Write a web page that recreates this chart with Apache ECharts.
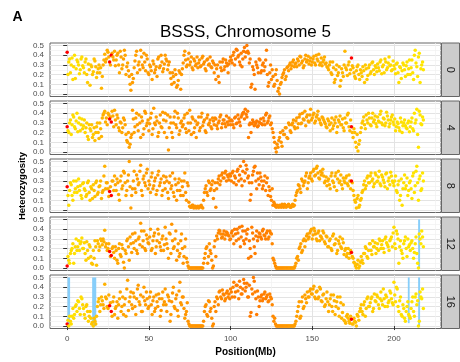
<!DOCTYPE html>
<html><head><meta charset="utf-8">
<script src="https://cdn.jsdelivr.net/npm/echarts@6/dist/echarts.min.js"></script>
<style>html,body{margin:0;padding:0;background:#fff}#c{width:460px;height:362px}</style>
</head><body><div id="c"></div>
<script>
// ---- data ----
const generations = ['0', '4', '8', '12', '16'];
// markers, set A (Mb)
const positions = [
0,1,2,3,4,5,6,7,8,9,10,11,12,13,14,15,16,17,18,19,20,21,22,23,24,25,26,27,28,29,
30,31,32,33,34,35,36,37,38,39,40,41,42,43,44,45,46,47,48,49,50,51,52,53,54,55,56,57,58,59,
60,61,62,63,64,65,66,67,68,69,70,71,72,73,74,75,76,77,78,79,80,81,82,83,84,85,86,87,88,89,
90,91,92,93,94,95,96,97,98,99,100,101,102,103,104,105,106,107,108,109,110,111,112,113,114,115,116,117,118,119,
120,121,122,123,124,125,126,127,128,129,130,131,132,133,134,135,136,137,138,139,140,141,142,143,144,145,146,147,148,149,
150,151,152,153,154,155,156,157,158,159,160,161,162,163,164,165,166,167,168,169,170,171,172,173,174,175,176,177,178,179,
180,181,182,183,184,185,186,187,188,189,190,191,192,193,194,195,196,197,198,199,200,201,202,203,204,205,206,207,208,209,
210,211,212,213,214,215,216,217,218];
// markers, set B (Mb)
const positionsB = [
0.5,1.5,2.5,3.5,4.5,5.5,6.5,7.5,8.5,9.5,10.5,11.5,12.5,13.5,14.5,15.5,16.5,17.5,18.5,19.5,
20.5,21.5,22.5,23.5,24.5,25.5,26.5,27.5,28.5,29.5,30.5,31.5,32.5,33.5,34.5,35.5,36.5,37.5,38.5,39.5,
40.5,41.5,42.5,43.5,44.5,45.5,46.5,47.5,48.5,49.5,50.5,51.5,52.5,53.5,54.5,55.5,56.5,57.5,58.5,59.5,
60.5,61.5,62.5,63.5,64.5,65.5,66.5,67.5,68.5,69.5,70.5,71.5,72.5,73.5,74.5,75.5,76.5,77.5,78.5,79.5,
80.5,81.5,82.5,83.5,84.5,85.5,86.5,87.5,88.5,89.5,90.5,91.5,92.5,93.5,94.5,95.5,96.5,97.5,98.5,99.5,
100.5,101.5,102.5,103.5,104.5,105.5,106.5,107.5,108.5,109.5,110.5,111.5,112.5,113.5,114.5,115.5,116.5,117.5,118.5,119.5,
120.5,121.5,122.5,123.5,124.5,125.5,126.5,127.5,128.5,129.5,130.5,131.5,132.5,133.5,134.5,135.5,136.5,137.5,138.5,139.5,
140.5,141.5,142.5,143.5,144.5,145.5,146.5,147.5,148.5,149.5,150.5,151.5,152.5,153.5,154.5,155.5,156.5,157.5,158.5,159.5,
160.5,161.5,162.5,163.5,164.5,165.5,166.5,167.5,168.5,169.5,170.5,171.5,172.5,173.5,174.5,175.5,176.5,177.5,178.5,179.5,
180.5,181.5,182.5,183.5,184.5,185.5,186.5,187.5,188.5,189.5,190.5,191.5,192.5,193.5,194.5,195.5,196.5,197.5,198.5,199.5,
200.5,201.5,202.5,203.5,204.5,205.5,206.5,207.5,208.5,209.5,210.5,211.5,212.5,213.5,214.5,215.5,216.5,217.5];
// marker colour variable (0 = yellow ... 1 = red)
const colorValues = [
1,.1,.12,.08,.1,.12,.1,.08,.12,.1,
.12,.15,.2,.18,.22,.25,.22,.28,.25,.3,
.32,.35,.38,.36,.4,.38,1,1,.4,.42,
.4,.44,.42,.45,.43,.46,.44,.45,.47,.48,
.5,.46,.48,.5,.47,.5,.52,.48,.5,.5,
.52,.5,.48,.5,.53,.5,.49,.52,.5,.5,
.5,.53,.5,.52,.55,.5,.52,.54,.5,.53,
.52,.55,.5,.53,.55,.52,.54,.55,.53,.55,
.55,.54,.56,.55,.57,.56,.58,.57,.6,.58,
.6,.62,.6,.63,.62,.64,.65,.63,.66,.65,
.66,.68,.67,.68,.7,.68,.7,.69,.7,.7,
.7,.68,.7,.69,.7,.68,.7,.69,.68,.7,
.68,.67,.68,.66,.65,.64,.62,.6,.58,.56,
.55,.54,.55,.53,.52,.53,.5,.52,.5,.5,
.5,.48,.5,.47,.48,.46,.47,.45,.46,.44,
.44,.42,.43,.4,.42,.4,.41,.38,.4,.38,
.38,.36,.38,.35,.37,.35,.36,.34,.35,.34,
.33,.34,.32,.33,1,.3,.28,.28,.26,.25,
.24,.23,.22,.22,.2,.2,.19,.19,.18,.17,
.16,.16,.15,.15,.14,.14,.13,.13,.12,.12,
.11,.11,.1,.1,.09,.09,.08,.08,.08,.07,
.07,.07,.06,.06,.06,.05,.05,.05,.05];
const colorValuesB = [
.1,.08,.1,.12,.08,.1,.12,.1,.12,.14,
.15,.18,.2,.22,.2,.25,.27,.28,.3,.32,
.33,.35,.37,.38,.4,.4,.42,.41,.42,.43,
.44,.43,.45,.44,.46,.45,.47,.48,.46,.49,
.48,.5,.49,.5,.51,.48,.5,.52,.5,.49,
.5,.51,.5,.52,.49,.51,.5,.53,.5,.51,
.52,.5,.54,.51,.53,.52,.54,.53,.52,.55,
.54,.53,.55,.54,.56,.55,.54,.56,.55,.56,
.56,.57,.55,.58,.56,.59,.57,.6,.59,.6,
.61,.6,.62,.61,.63,.64,.63,.65,.64,.66,
.67,.66,.68,.69,.68,.7,.69,.7,.71,.7,
.69,.7,.71,.68,.7,.7,.69,.7,.69,.68,
.67,.68,.66,.65,.66,.63,.61,.59,.57,.55,
.54,.53,.54,.52,.53,.51,.51,.5,.5,.49,
.49,.48,.49,.46,.47,.45,.46,.44,.45,.43,
.43,.41,.42,.41,.4,.41,.39,.39,.38,.37,
.37,.37,.36,.36,.35,.36,.34,.35,.33,.33,
.33,.32,.32,.31,.31,.3,.29,.3,.28,.27,
.24,.23,.22,.21,.21,.2,.19,.18,.18,.17,
.16,.15,.15,.14,.14,.13,.13,.12,.12,.11,
.11,.1,.1,.09,.09,.08,.08,.08,.07,.07,
.07,.06,.06,.06,.05,.05,.05,.05];
// heterozygosity per generation, set A
const het0 = [
.43,.33,.22,.37,.28,.16,.35,.30,.25,.38,
.27,.33,.20,.31,.09,.28,.23,.34,.17,.26,
.22,.06,.30,.41,.36,.43,.33,.40,.38,.44,
.35,.42,.22,.38,.30,.45,.20,.32,.18,.04,
.12,.27,.40,.22,.33,.45,.30,.42,.24,.36,
.20,.28,.15,.31,.25,.18,.38,.29,.33,.26,
.40,.34,.30,.22,.10,.18,.25,.07,.14,.22,
.20,.32,.44,.28,.36,.30,.38,.25,.34,.31,
.27,.35,.29,.39,.33,.24,.36,.31,.28,.34,
.22,.15,.30,.12,.27,.33,.25,.35,.29,.31,
.38,.32,.43,.36,.45,.40,.30,.28,.44,.38,
.50,.42,.36,.10,.25,.05,.30,.22,.35,.24,
.32,.28,.45,.08,.22,.15,.18,.10,.25,.03,
.00,.12,.20,.25,.18,.28,.30,.26,.33,.28,
.32,.36,.30,.38,.34,.29,.40,.35,.31,.37,
.33,.39,.30,.36,.41,.32,.29,.35,.31,.28,
.25,.33,.20,.27,.15,.30,.22,.08,.26,.18,
.44,.25,.30,.21,.37,.27,.18,.24,.30,.15,
.22,.28,.12,.26,.19,.30,.23,.33,.20,.27,
.31,.24,.35,.28,.22,.33,.27,.38,.30,.25,
.29,.21,.32,.12,.27,.24,.30,.18,.33,.26,
.20,.35,.15,.45,.28,.38,.12,.30,.25];
const het4 = [
.26,.20,.33,.28,.36,.24,.40,.30,.22,.34,
.27,.20,.30,.13,.24,.28,.18,.12,.26,.20,
.30,.16,.38,.42,.35,.40,.34,.31,.37,.43,
.28,.35,.22,.30,.25,.33,.18,.10,.05,.15,
.43,.20,.35,.28,.38,.15,.32,.24,.40,.30,
.22,.35,.18,.45,.28,.32,.20,.38,.25,.33,
.40,.15,.02,.36,.20,.30,.42,.25,.35,.22,
.32,.28,.38,.20,.30,.43,.18,.34,.25,.15,
.30,.22,.36,.27,.33,.20,.38,.30,.26,.35,
.28,.34,.24,.32,.38,.29,.33,.26,.31,.35,
.28,.32,.25,.36,.30,.34,.27,.38,.41,.44,
.36,.15,.30,.29,.31,.28,.32,.27,.30,.29,
.35,.28,.40,.32,.37,.30,.20,.10,.00,.05,
.15,.10,.22,.18,.25,.14,.28,.20,.30,.26,
.32,.25,.36,.29,.40,.33,.27,.38,.31,.44,
.35,.40,.32,.38,.34,.30,.36,.33,.29,.25,
.32,.22,.35,.27,.30,.20,.33,.37,.28,.25,
.35,.30,.40,.22,.26,.15,.20,.05,.01,.12,
.25,.32,.28,.38,.30,.35,.27,.40,.33,.29,
.36,.31,.42,.28,.34,.30,.37,.26,.33,.38,
.28,.22,.31,.25,.35,.20,.30,.27,.24,.32,
.26,.35,.22,.30,.44,.05,.38,.28,.33];
const het8 = [
.24,.05,.28,.15,.30,.22,.18,.32,.25,.12,
.28,.20,.16,.30,.10,.22,.26,.14,.30,.18,
.25,.12,.20,.45,.28,.22,.19,.15,.30,.35,
.20,.28,.10,.35,.25,.38,.15,.30,.50,.02,
.22,.40,.18,.32,.28,.46,.15,.35,.25,.42,
.30,.18,.38,.25,.33,.20,.40,.28,.15,.35,
.22,.30,.12,.35,.25,.18,.32,.10,.28,.20,
.30,.15,.38,.10,.25,.04,.03,.05,.03,.02,
.04,.03,.05,.02,.18,.25,.15,.28,.22,.30,
.20,.03,.28,.35,.30,.38,.33,.40,.36,.31,
.35,.38,.28,.33,.40,.30,.45,.25,.50,.38,
.42,.35,.10,.28,.40,.45,.22,.32,.38,.30,
.25,.35,.28,.15,.20,.10,.05,.06,.03,.04,
.05,.03,.04,.06,.03,.05,.04,.03,.06,.05,
.15,.20,.25,.18,.30,.28,.35,.22,.33,.38,
.30,.42,.36,.45,.33,.40,.38,.35,.30,.25,
.32,.22,.38,.28,.35,.20,.40,.30,.26,.33,
.28,.35,.25,.30,.30,.20,.10,.02,.15,.05,
.12,.20,.30,.25,.35,.28,.38,.32,.27,.36,
.30,.40,.25,.34,.28,.37,.22,.33,.39,.30,
.25,.35,.18,.30,.15,.05,.28,.22,.33,.20,
.30,.12,.38,.25,.45,.10,.35,.22,.30];
const het12 = [
.02,.08,.15,.20,.05,.22,.18,.28,.25,.31,
.20,.15,.27,.10,.22,.05,.18,.28,.03,.25,
.22,.28,.30,.39,.25,.20,.17,.13,.22,.10,
.18,.05,.25,.12,.20,.00,.15,.30,.08,.25,
.35,.20,.28,.15,.32,.46,.22,.38,.18,.30,
.25,.40,.20,.33,.15,.28,.35,.22,.30,.18,
.42,.25,.10,.35,.45,.20,.30,.08,.25,.15,
.35,.05,.22,.10,.02,.00,.00,.00,.00,.00,
.00,.00,.00,.00,.10,.20,.05,.25,.15,.00,
.22,.12,.30,.39,.35,.32,.38,.34,.36,.33,
.30,.38,.25,.35,.40,.30,.22,.43,.28,.38,
.35,.10,.20,.42,.30,.15,.38,.32,.35,.30,
.40,.33,.36,.30,.38,.35,.10,.05,.00,.00,
.00,.00,.00,.00,.00,.00,.00,.00,.00,.00,
.05,.12,.20,.25,.18,.30,.28,.35,.32,.38,
.30,.41,.35,.28,.38,.33,.30,.36,.25,.32,
.22,.30,.18,.35,.25,.15,.28,.32,.20,.26,
.18,.12,.20,.15,.16,.10,.05,.00,.08,.02,
.12,.05,.15,.20,.10,.25,.18,.28,.22,.15,
.25,.30,.20,.28,.16,.32,.24,.18,.30,.22,
.42,.20,.35,.05,.28,.15,.25,.32,.12,.22,
.18,.28,.10,.25,.15,.00,.30,.38,.22];
const het16 = [
.02,.00,.05,.10,.08,.20,.15,.25,.12,.28,
.18,.08,.22,.05,.15,.02,.00,.05,.10,.25,
.15,.30,.22,.43,.28,.18,.21,.15,.25,.12,
.20,.08,.28,.15,.30,.22,.10,.47,.25,.35,
.18,.30,.12,.38,.25,.32,.15,.40,.22,.28,
.20,.35,.12,.30,.18,.25,.33,.10,.28,.22,
.38,.15,.30,.05,.25,.40,.18,.32,.10,.45,
.22,.30,.08,.15,.05,.00,.00,.00,.00,.00,
.00,.00,.00,.00,.15,.22,.10,.25,.18,.00,
.20,.15,.28,.35,.30,.37,.32,.28,.36,.33,
.38,.30,.45,.35,.42,.28,.40,.33,.48,.36,
.44,.30,.10,.38,.50,.35,.12,.30,.26,.32,
.28,.35,.30,.25,.33,.28,.10,.08,.00,.00,
.00,.00,.00,.00,.00,.00,.00,.00,.00,.00,
.05,.15,.25,.10,.30,.20,.28,.35,.30,.38,
.33,.41,.28,.36,.30,.38,.25,.33,.22,.35,
.15,.28,.20,.32,.12,.25,.18,.30,.08,.22,
.05,.10,.08,.03,.07,.02,.05,.00,.10,.15,
.22,.12,.25,.18,.30,.20,.28,.15,.33,.25,
.30,.18,.35,.22,.28,.32,.20,.26,.34,.24,
.45,.25,.38,.15,.30,.10,.18,.05,.20,.12,
.08,.25,.15,.30,.22,.00,.35,.28,.18];
// heterozygosity per generation, set B
const het0B = [
.20,.36,.30,.15,.40,.26,.33,.21,.36,.29,
.22,.36,.12,.25,.30,.20,.36,.28,.22,.30,
.27,.18,.35,.33,.45,.38,.30,.42,.35,.29,
.40,.30,.44,.26,.36,.40,.28,.24,.10,.20,
.16,.34,.44,.30,.25,.38,.27,.33,.40,.22,
.30,.24,.34,.22,.28,.36,.27,.40,.23,.31,
.36,.25,.33,.16,.22,.12,.20,.09,.24,.05,
.26,.40,.35,.30,.42,.33,.27,.36,.29,.38,
.32,.28,.37,.31,.26,.35,.30,.38,.27,.32,
.30,.26,.18,.33,.24,.36,.28,.32,.22,.34,
.35,.40,.30,.46,.38,.33,.42,.36,.48,.43,
.44,.32,.07,.28,.20,.33,.27,.36,.22,.30,
.24,.35,.20,.12,.30,.25,.08,.20,.14,.06,
.10,.17,.22,.15,.27,.24,.32,.29,.35,.31,
.28,.34,.39,.32,.27,.36,.33,.39,.34,.30,
.36,.32,.40,.34,.30,.37,.33,.38,.32,.27,
.30,.22,.33,.12,.25,.19,.28,.14,.22,.30,
.27,.19,.33,.25,.29,.22,.16,.28,.20,.25,
.18,.24,.30,.15,.27,.21,.32,.25,.29,.23,
.27,.33,.21,.30,.36,.25,.32,.29,.24,.34,
.26,.31,.22,.28,.16,.32,.25,.29,.20,.35,
.27,.22,.40,.32,.18,.42,.26,.33];
const het4B = [
.22,.30,.18,.38,.26,.32,.21,.35,.28,.24,
.33,.25,.16,.28,.22,.15,.25,.20,.30,.14,
.24,.35,.40,.31,.28,.38,.36,.42,.26,.33,
.38,.25,.31,.20,.35,.28,.12,.20,.08,.18,
.34,.26,.40,.22,.30,.36,.18,.42,.27,.33,
.29,.40,.24,.30,.36,.16,.30,.26,.41,.20,
.32,.38,.25,.30,.15,.36,.28,.40,.18,.30,
.26,.35,.24,.40,.22,.30,.36,.20,.32,.28,
.36,.25,.40,.31,.22,.35,.28,.33,.24,.32,
.35,.27,.30,.36,.25,.33,.29,.37,.28,.32,
.33,.28,.35,.29,.38,.31,.36,.40,.34,.39,
.42,.28,.20,.33,.27,.30,.26,.31,.34,.28,
.32,.38,.30,.35,.28,.24,.15,.04,.08,.12,
.20,.06,.18,.25,.15,.30,.22,.28,.33,.24,
.35,.29,.39,.30,.34,.42,.36,.32,.38,.33,
.38,.30,.36,.42,.33,.28,.35,.31,.26,.34,
.28,.30,.24,.33,.36,.26,.31,.28,.34,.22,
.30,.38,.26,.33,.20,.24,.10,.18,.08,.20,
.30,.36,.24,.33,.40,.28,.35,.31,.37,.26,
.32,.39,.30,.35,.27,.41,.33,.29,.36,.31,
.34,.26,.29,.22,.31,.27,.33,.25,.30,.21,
.31,.24,.40,.33,.18,.42,.29,.36];
const het8B = [
.15,.20,.26,.10,.18,.30,.24,.20,.15,.27,
.22,.14,.28,.18,.24,.12,.20,.28,.16,.24,
.30,.18,.35,.22,.28,.14,.24,.30,.20,.26,
.32,.16,.30,.22,.40,.28,.20,.36,.24,.15,
.30,.22,.36,.26,.40,.20,.32,.28,.38,.22,
.26,.34,.22,.30,.16,.36,.25,.32,.20,.28,
.34,.18,.28,.22,.38,.14,.26,.20,.32,.15,
.24,.30,.18,.28,.08,.03,.05,.02,.04,.03,
.02,.04,.03,.10,.22,.18,.30,.20,.26,.12,
.28,.22,.32,.26,.36,.33,.38,.30,.34,.37,
.30,.40,.35,.26,.42,.36,.32,.40,.30,.46,
.33,.28,.16,.36,.44,.30,.38,.26,.34,.22,
.30,.20,.33,.24,.14,.22,.08,.04,.05,.03,
.04,.06,.03,.05,.04,.06,.03,.05,.04,.10,
.18,.26,.22,.32,.25,.30,.38,.28,.35,.32,
.40,.35,.43,.38,.32,.36,.42,.28,.34,.30,
.26,.35,.30,.24,.38,.32,.28,.36,.22,.30,
.33,.27,.36,.22,.28,.15,.08,.12,.03,.10,
.18,.26,.22,.33,.28,.35,.30,.24,.38,.29,
.34,.27,.36,.31,.24,.38,.30,.26,.35,.28,
.30,.20,.26,.10,.32,.22,.36,.25,.15,.28,
.22,.35,.18,.40,.28,.32,.20,.38];
const het12B = [
.12,.05,.18,.25,.15,.30,.22,.18,.27,.20,
.26,.08,.18,.24,.12,.04,.10,.22,.28,.18,
.30,.24,.27,.22,.18,.25,.12,.20,.16,.22,
.08,.20,.14,.24,.06,.18,.28,.22,.32,.16,
.26,.36,.18,.30,.24,.38,.28,.20,.34,.26,
.32,.18,.28,.36,.22,.40,.26,.18,.33,.24,
.30,.20,.36,.15,.28,.22,.38,.18,.12,.28,
.20,.12,.30,.06,.00,.00,.00,.00,.00,.00,
.00,.00,.00,.05,.15,.22,.12,.18,.08,.02,
.28,.33,.36,.38,.31,.35,.30,.37,.34,.29,
.36,.33,.40,.28,.36,.42,.32,.38,.25,.30,
.40,.28,.12,.36,.22,.33,.28,.36,.32,.38,
.34,.30,.38,.32,.36,.25,.08,.02,.00,.00,
.00,.00,.00,.00,.00,.00,.00,.00,.00,.02,
.10,.08,.22,.16,.28,.22,.33,.30,.36,.40,
.34,.38,.30,.36,.28,.32,.38,.27,.33,.22,
.28,.20,.33,.24,.30,.18,.25,.22,.30,.14,
.20,.15,.10,.18,.12,.06,.02,.04,.00,.06,
.08,.15,.22,.12,.18,.25,.14,.22,.26,.20,
.18,.28,.24,.20,.30,.26,.22,.28,.32,.36,
.25,.38,.30,.22,.18,.10,.28,.20,.30,.24,
.26,.20,.16,.32,.05,.35,.25,.32];
const het16B = [
.06,.10,.02,.18,.12,.22,.26,.18,.30,.22,
.12,.20,.15,.10,.08,.04,.08,.02,.20,.28,
.22,.26,.18,.30,.20,.32,.24,.10,.30,.18,
.25,.22,.35,.20,.12,.28,.38,.16,.30,.22,
.34,.20,.28,.42,.22,.15,.30,.26,.35,.18,
.30,.22,.26,.15,.32,.20,.28,.16,.35,.25,
.22,.32,.26,.12,.34,.20,.28,.16,.36,.24,
.30,.18,.12,.24,.02,.00,.00,.00,.00,.00,
.00,.00,.00,.05,.20,.12,.26,.15,.08,.02,
.25,.30,.22,.36,.28,.33,.26,.34,.30,.28,
.35,.40,.30,.42,.36,.46,.33,.38,.44,.40,
.30,.42,.14,.33,.46,.28,.36,.20,.30,.26,
.33,.28,.32,.26,.30,.22,.05,.02,.00,.00,
.00,.00,.00,.00,.00,.00,.00,.00,.00,.02,
.10,.20,.08,.25,.18,.32,.24,.30,.36,.33,
.38,.30,.35,.28,.40,.26,.32,.20,.28,.25,
.22,.32,.15,.26,.20,.30,.10,.24,.14,.06,
.03,.12,.05,.10,.02,.08,.04,.12,.06,.18,
.15,.22,.10,.28,.20,.24,.30,.18,.26,.32,
.22,.28,.26,.38,.20,.30,.24,.36,.28,.22,
.32,.40,.20,.26,.12,.22,.08,.15,.25,.10,
.18,.30,.10,.33,.26,.05,.30,.38];
// highlighted intervals [start, end, low, high]
const highlights0 = [];
const highlights4 = [];
const highlights8 = [];
const highlights12 = [[214.8, 216.0, 0, 0.5]];
const highlights16 = [[0.2, 1.8, 0, 0.5], [15.3, 17.8, 0, 0.5], [208.5, 209.6, 0.03, 0.5], [214.8, 216.0, 0, 0.5]];
const xTicks = [0, 50, 100, 150, 200];
const xMinorTicks = [25, 75, 125, 175, 225];
const yTicks = [0, 0.1, 0.2, 0.3, 0.4, 0.5];
const yMinorTicks = [0.05, 0.15, 0.25, 0.35, 0.45];

// ---- chart ----
const hetByPanel = [het0, het4, het8, het12, het16];
const hetBByPanel = [het0B, het4B, het8B, het12B, het16B];
const hlByPanel = [highlights0, highlights4, highlights8, highlights12, highlights16];
const FONT = 'Liberation Sans, Arial, sans-serif';
const TOP0 = 43, STEP = 58, H = 53.5, LEFT = 50, RIGHT = 19, XMIN = -10.5, XMAX = 228.8, YMIN = -0.025, YMAX = 0.525;
const grids = [], xAxes = [], yAxes = [], series = [], graphics = [], scatterIdx = [];
for (let i = 0; i < 5; i++) {
  const last = i === 4;
  const top = TOP0 + STEP * i;
  grids.push({left: LEFT, right: RIGHT, top: top, height: H, show: true, borderColor: '#666', borderWidth: 1,
    backgroundColor: '#fff', containLabel: false, outerBoundsMode: 'none'});
  xAxes.push({type: 'value', gridIndex: i, min: XMIN, max: XMAX, position: 'bottom',
    axisLine: {show: false},
    axisTick: {show: last, length: 4, customValues: xTicks, lineStyle: {color: '#333', width: 1}},
    axisLabel: {show: last, customValues: xTicks, fontSize: 8, color: '#4d4d4d', margin: 6, fontFamily: FONT},
    splitLine: {show: true, lineStyle: {color: '#e3e3e3', width: 1}}});
  xAxes.push({type: 'value', gridIndex: i, min: XMIN, max: XMAX, position: 'top',
    axisLine: {show: false}, axisTick: {show: false, customValues: xMinorTicks},
    axisLabel: {show: false, customValues: xMinorTicks},
    splitLine: {show: true, lineStyle: {color: '#f1f1f1', width: 0.7}}});
  yAxes.push({type: 'value', gridIndex: i, min: YMIN, max: YMAX, position: 'left',
    axisLine: {show: false},
    axisTick: {show: true, length: 4, customValues: yTicks, lineStyle: {color: '#333', width: 1}},
    axisLabel: {show: true, customValues: yTicks, fontSize: 8, color: '#4d4d4d', margin: 6, fontFamily: FONT,
      formatter: v => v.toFixed(1)},
    splitLine: {show: true, lineStyle: {color: '#e3e3e3', width: 1}}});
  yAxes.push({type: 'value', gridIndex: i, min: YMIN, max: YMAX, position: 'right',
    axisLine: {show: false}, axisTick: {show: false, customValues: yMinorTicks},
    axisLabel: {show: false, customValues: yMinorTicks},
    splitLine: {show: true, lineStyle: {color: '#f1f1f1', width: 0.7}}});
  series.push({type: 'custom', xAxisIndex: 2 * i, yAxisIndex: 2 * i, z: 1, silent: true,
    data: hlByPanel[i],
    renderItem: (params, api) => {
      const a = api.coord([api.value(0), api.value(3)]);
      const b = api.coord([api.value(1), api.value(2)]);
      return {type: 'rect', shape: {x: a[0], y: a[1], width: b[0] - a[0], height: b[1] - a[1]},
        style: {fill: '#87CEFA'}};
    }});
  scatterIdx.push(series.length);
  const het = hetByPanel[i], hetB = hetBByPanel[i];
  const pts = positionsB.map((x, j) => [x, hetB[j], colorValuesB[j]])
    .concat(positions.map((x, j) => [x, het[j], colorValues[j]]));
  series.push({type: 'scatter', xAxisIndex: 2 * i, yAxisIndex: 2 * i, z: 2, symbolSize: 3.5,
    itemStyle: {opacity: 1}, data: pts});
  // strip
  graphics.push({type: 'rect', shape: {x: 441.5, y: top, width: 18, height: H},
    style: {fill: '#cccccc', stroke: '#666', lineWidth: 1}});
  graphics.push({type: 'text', x: 450.5, y: top + H / 2, rotation: -Math.PI / 2,
    style: {text: generations[i], fontSize: 11, fill: '#1a1a1a', align: 'center', verticalAlign: 'middle', fontFamily: FONT}});
}
graphics.push({type: 'text', x: 12.5, y: 17, style: {text: 'A', fontSize: 14, fontWeight: 'bold', fill: '#000',
  align: 'left', verticalAlign: 'middle', fontFamily: FONT}});
graphics.push({type: 'text', x: 245.5, y: 32, style: {text: 'BSSS, Chromosome 5', fontSize: 17, fill: '#000',
  align: 'center', verticalAlign: 'middle', fontFamily: FONT}});
graphics.push({type: 'text', x: 22, y: 186, rotation: Math.PI / 2, style: {text: 'Heterozygosity', fontSize: 9.5,
  fontWeight: 'bold', fill: '#000', align: 'center', verticalAlign: 'middle', fontFamily: FONT}});
graphics.push({type: 'text', x: 245.5, y: 352, style: {text: 'Position(Mb)', fontSize: 10,
  fontWeight: 'bold', fill: '#000', align: 'center', verticalAlign: 'middle', fontFamily: FONT}});

const chart = echarts.init(document.getElementById('c'), null, {renderer: 'canvas'});
chart.setOption({
  animation: false,
  backgroundColor: '#fff',
  grid: grids, xAxis: xAxes, yAxis: yAxes,
  visualMap: {type: 'continuous', show: false, seriesIndex: scatterIdx, dimension: 2, min: 0, max: 1,
    inRange: {color: ['#FFEE00', '#FFC400', '#FF9C00', '#FF7300', '#FF0000']}},
  series: series,
  graphic: graphics
});
</script></body></html>
